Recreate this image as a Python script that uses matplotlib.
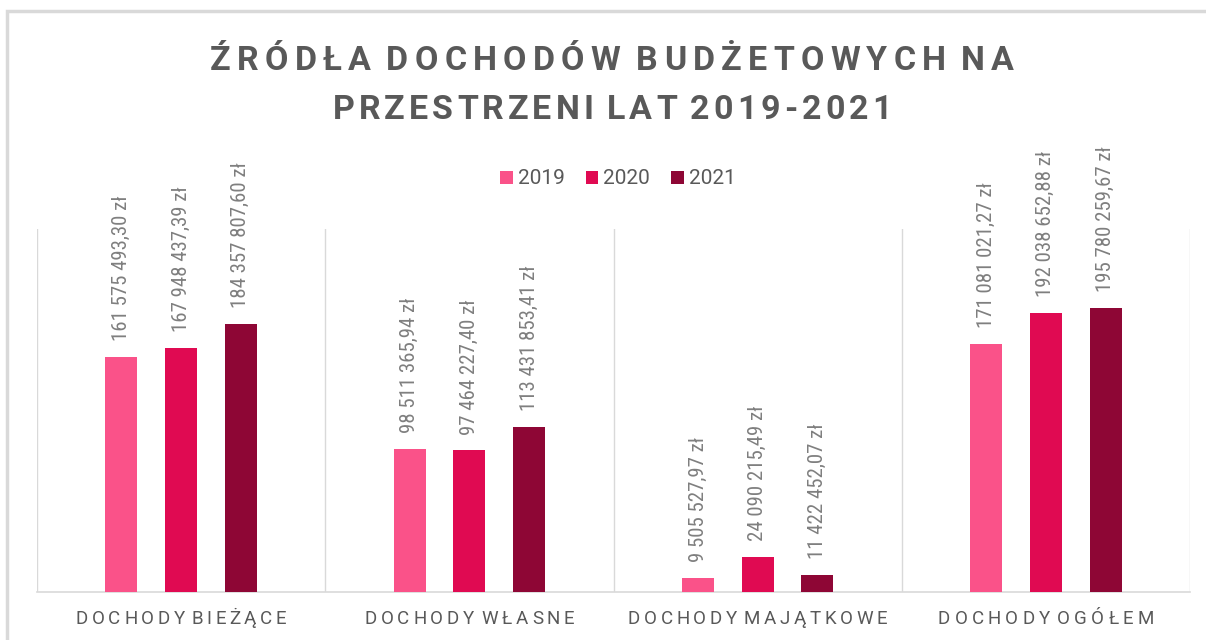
import numpy as np
import matplotlib.pyplot as plt
from matplotlib import font_manager
from matplotlib.font_manager import FontProperties
from matplotlib.patches import Rectangle

# Dane
kategorie = ["DOCHODY BIEŻĄCE", "DOCHODY WŁASNE", "DOCHODY MAJĄTKOWE", "DOCHODY OGÓŁEM"]
lata = ["2019", "2020", "2021"]
d2019 = [161575493.30, 98511365.94, 9505527.97, 171081021.27]
d2020 = [167948437.39, 97464227.40, 24090215.49, 192038652.88]
d2021 = [184357807.60, 113431853.41, 11422452.07, 195780259.67]
kolory = ["#FA5289", "#E00A52", "#8E0635"]

dostepne = {f.name for f in font_manager.fontManager.ttflist}
waskie = [n for n in ["Roboto Condensed", "Liberation Sans Narrow", "DejaVu Sans Condensed"]
          if n in dostepne]
FONT = waskie[0] if waskie else "Roboto"

W, H = 1206, 640


def fmt_zl(v):
    s = f"{v:,.2f}"
    calk, ulam = s.split(".")
    return calk.replace(",", " ") + "," + ulam + " zł"


def pozycje(r, s, prop, odst, spacja):
    # przesunięcia kolejnych liter przy danym odstępie
    xs, xx = [], 0.0
    for ch in s:
        xs.append(xx)
        if ch == " ":
            xx += spacja
        else:
            xx += r.get_text_width_height_descent(ch, prop, ismath=False)[0] + odst
    return xs, xx - odst


def rozstrzel(fig, r, xc, yc, s, prop, szer_docel, spacja, **kw):
    _, nat = pozycje(r, s, prop, 0.0, spacja)
    odst = (szer_docel - nat) / (len(s) - 1)
    xs, tot = pozycje(r, s, prop, odst, spacja)
    x0 = xc - tot / 2
    for ch, xo in zip(s, xs):
        if ch != " ":
            fig.text((x0 + xo) / W, yc / H, ch, ha="left", va="center",
                     fontproperties=prop, **kw)


fig = plt.figure(figsize=(W / 100, H / 100), dpi=100)
fig.patch.set_facecolor("white")
fig.patches.append(Rectangle((7 / W, -0.1), 1.2, (H - 11) / H + 0.1,
                             transform=fig.transFigure, fill=False,
                             edgecolor="#D9D9D9", linewidth=2.5))

ax = fig.add_axes([37 / W, 48 / H, (1190 - 37) / W, (592 - 229) / H])

x = np.arange(len(kategorie))
szer = 0.111
odst = 0.207
serie = [d2019, d2020, d2021]
for i, (rok, dane) in enumerate(zip(lata, serie)):
    pos = x + (i - 1) * odst
    ax.bar(pos, dane, width=szer, color=kolory[i], label=rok, zorder=3)
    for px, v in zip(pos, dane):
        ax.text(px, v + 11e6, fmt_zl(v), rotation=90, ha="center", va="bottom",
                fontsize=15, color="#7F7F7F", family=FONT)

ax.set_xlim(-0.5, 3.5)
ax.set_ylim(0, 250e6)
ax.set_yticks([])
ax.set_xticks(x)
ax.set_xticklabels([])
ax.tick_params(axis="x", length=0)
for s in ["top", "left", "right"]:
    ax.spines[s].set_visible(False)
ax.spines["bottom"].set_color("#D9D9D9")
ax.spines["bottom"].set_linewidth(1.2)
for b in np.arange(-0.5, 4.0, 1.0):
    ax.axvline(b, color="#D9D9D9", linewidth=1, zorder=1)

fig.canvas.draw()
r = fig.canvas.get_renderer()

# etykiety kategorii (rozstrzelone)
p_kat = FontProperties(family="Roboto", size=13.5)
szer_kat = [214, 214, 263, 220]
for xi, k, sk in zip(x, kategorie, szer_kat):
    xc = ax.transData.transform((xi, 0))[0]
    rozstrzel(fig, r, xc, H - 619, k, p_kat, sk, 3.0, color="#595959")

# tytuł
p_tyt = FontProperties(family="Roboto", size=24.5, weight="bold")
tytul = ["ŹRÓDŁA DOCHODÓW BUDŻETOWYCH NA", "PRZESTRZENI LAT 2019-2021"]
for yc, linia, sz in zip([H - 61, H - 110], tytul, [823, 567]):
    rozstrzel(fig, r, 612, yc, linia, p_tyt, sz, 9.0, color="#595959")

leg = fig.legend(loc="center", bbox_to_anchor=(618 / W, (H - 179) / H), ncol=3, frameon=False,
                 prop={"family": "Roboto", "size": 15}, handlelength=0.6,
                 handleheight=0.6, handletextpad=0.25, columnspacing=1.0)
for t in leg.get_texts():
    t.set_color("#595959")

plt.savefig("out.png", dpi=100)
